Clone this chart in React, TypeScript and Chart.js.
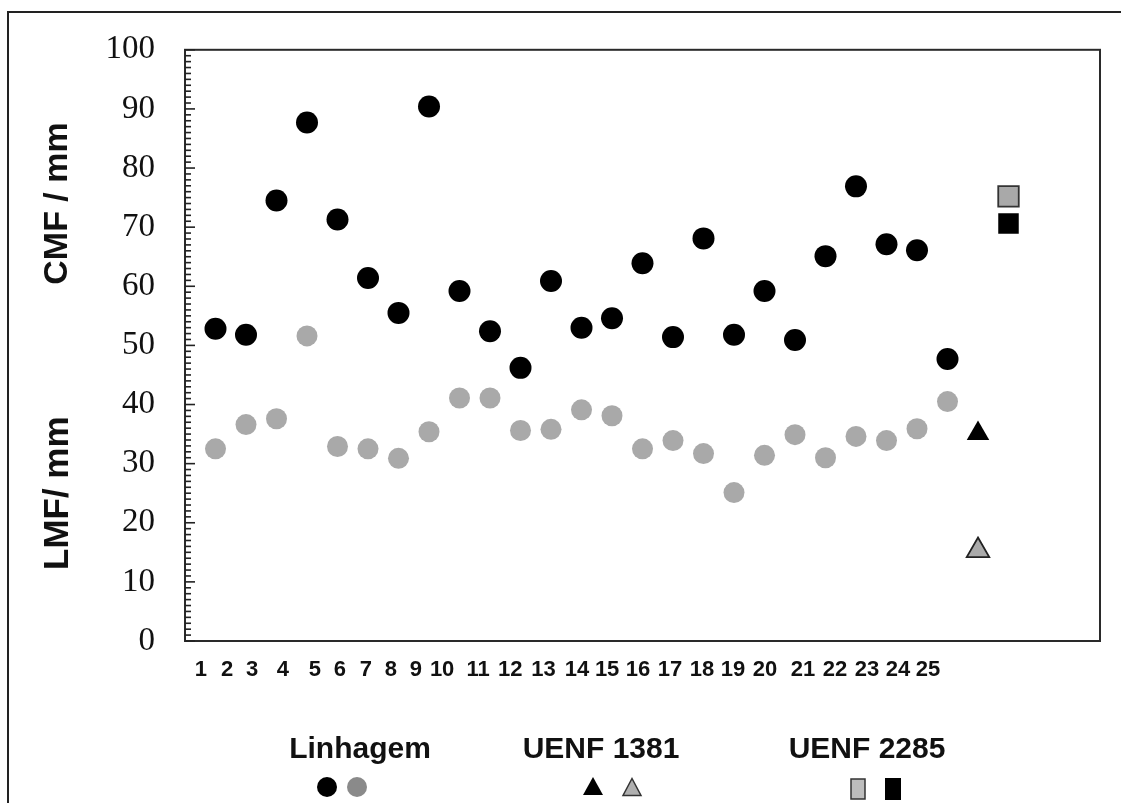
import React, { useEffect, useRef } from "react";
import { Chart, registerables } from "chart.js";

Chart.register(...registerables);

// ---------- data ----------
const linhagemX = [1, 2, 3, 4, 5, 6, 7, 8, 9, 10, 11, 12, 13, 14, 15, 16, 17, 18, 19, 20, 21, 22, 23, 24, 25];
const linhagemCMF = [52.8, 51.8, 74.5, 87.7, 71.3, 61.4, 55.5, 90.4, 59.2, 52.4, 46.2, 60.9, 53.0, 54.6, 63.9, 51.4, 68.1, 51.8, 59.2, 50.9, 65.1, 76.9, 67.1, 66.1, 47.7];
const linhagemLMF = [32.5, 36.6, 37.6, 51.6, 32.9, 32.5, 30.9, 35.4, 41.1, 41.1, 35.6, 35.8, 39.1, 38.1, 32.5, 33.9, 31.7, 25.1, 31.4, 34.9, 31.0, 34.6, 33.9, 35.9, 40.5];

const uenf1381X = [26];
const uenf1381CMF = [35.1];
const uenf1381LMF = [15.3];

const uenf2285X = [27];
const uenf2285LMF = [75.2];
const uenf2285CMF = [70.6];

const xTickPositions = [0.52, 1.38, 2.2, 3.21, 4.26, 5.08, 5.93, 6.75, 7.57, 8.43, 9.61, 10.66, 11.75, 12.85, 13.84, 14.85, 15.9, 16.95, 17.97, 19.02, 20.26, 21.31, 22.36, 23.38, 24.36];
const xTickLabels = ["1", "2", "3", "4", "5", "6", "7", "8", "9", "10", "11", "12", "13", "14", "15", "16", "17", "18", "19", "20", "21", "22", "23", "24", "25"];

const yTitles = ["CMF / mm", "LMF/ mm"];
const legendGroups = ["Linhagem", "UENF 1381", "UENF 2285"];

const SANS = "'Liberation Sans', Arial, Helvetica, sans-serif";
const SERIF = "'Liberation Serif', 'Times New Roman', serif";

const pts = (xs: number[], ys: number[]) => xs.map((x, i) => ({ x, y: ys[i] }));

const decorPlugin = {
  id: "decor",
  beforeDraw(chart: any) {
    const ctx = chart.ctx;
    ctx.save();
    ctx.fillStyle = "#ffffff";
    ctx.fillRect(0, 0, chart.width, chart.height);
    // outer frame (top and left)
    ctx.strokeStyle = "#222";
    ctx.lineWidth = 2;
    ctx.beginPath();
    ctx.moveTo(8, chart.height + 2);
    ctx.lineTo(8, 12);
    ctx.lineTo(chart.width + 2, 12);
    ctx.stroke();
    ctx.restore();
  },
  afterDraw(chart: any) {
    const ctx = chart.ctx;
    const a = chart.chartArea;
    const ys = chart.scales.y;
    ctx.save();
    // plot box
    ctx.strokeStyle = "#2a2a2a";
    ctx.lineWidth = 2;
    ctx.strokeRect(a.left, a.top, a.right - a.left, a.bottom - a.top);
    // y minor/major ticks inside
    ctx.lineWidth = 1.6;
    ctx.strokeStyle = "#222";
    for (let v = 0; v <= 100; v++) {
      const y = ys.getPixelForValue(v);
      const len = v % 10 === 0 ? 10 : 6;
      ctx.beginPath();
      ctx.moveTo(a.left, y);
      ctx.lineTo(a.left + len, y);
      ctx.stroke();
    }
    // y titles
    ctx.fillStyle = "#111";
    ctx.textAlign = "center";
    ctx.textBaseline = "middle";
    const titleCenters = [ys.getPixelForValue(74), ys.getPixelForValue(25)];
    const titleSizes = [34, 35];
    yTitles.forEach((t, i) => {
      ctx.save();
      ctx.font = `bold ${titleSizes[i]}px ${SANS}`;
      ctx.translate(58, titleCenters[i]);
      ctx.rotate(-Math.PI / 2);
      ctx.fillText(t, 0, 0);
      ctx.restore();
    });
    // legend
    ctx.font = `bold 30px ${SANS}`;
    const centers = [360, 601, 867];
    legendGroups.forEach((t, i) => ctx.fillText(t, centers[i], 750));
    // Linhagem markers
    ctx.fillStyle = "#000";
    ctx.beginPath();
    ctx.arc(327, 787, 10, 0, Math.PI * 2);
    ctx.fill();
    ctx.fillStyle = "#8a8a8a";
    ctx.beginPath();
    ctx.arc(357, 787, 10, 0, Math.PI * 2);
    ctx.fill();
    // UENF 1381 markers
    const tri = (cx: number, cy: number, w: number, h: number, fill: string, stroke: boolean) => {
      ctx.beginPath();
      ctx.moveTo(cx, cy - h / 2);
      ctx.lineTo(cx + w / 2, cy + h / 2);
      ctx.lineTo(cx - w / 2, cy + h / 2);
      ctx.closePath();
      ctx.fillStyle = fill;
      ctx.fill();
      if (stroke) {
        ctx.strokeStyle = "#333";
        ctx.lineWidth = 1.5;
        ctx.stroke();
      }
    };
    tri(593, 786, 20, 18, "#000", false);
    tri(632, 787, 18, 17, "#b0b0b0", true);
    // UENF 2285 markers
    ctx.fillStyle = "#bdbdbd";
    ctx.fillRect(851, 779, 14, 20);
    ctx.strokeStyle = "#333";
    ctx.lineWidth = 1.5;
    ctx.strokeRect(851, 779, 14, 20);
    ctx.fillStyle = "#000";
    ctx.fillRect(885, 778, 16, 22);
    ctx.restore();
  },
};

export default function App() {
  const ref = useRef<HTMLCanvasElement | null>(null);

  useEffect(() => {
    if (!ref.current) return;
    const chart = new Chart(ref.current, {
      type: "scatter",
      data: {
        datasets: [
          {
            label: "Linhagem CMF",
            data: pts(linhagemX, linhagemCMF),
            pointStyle: "circle",
            pointRadius: 11,
            backgroundColor: "#000",
            borderWidth: 0,
          },
          {
            label: "Linhagem LMF",
            data: pts(linhagemX, linhagemLMF),
            pointStyle: "circle",
            pointRadius: 10.5,
            backgroundColor: "#a9a9a9",
            borderWidth: 0,
          },
          {
            label: "UENF 1381 CMF",
            data: pts(uenf1381X, uenf1381CMF),
            pointStyle: "triangle",
            pointRadius: 13,
            backgroundColor: "#000",
            borderWidth: 0,
          },
          {
            label: "UENF 1381 LMF",
            data: pts(uenf1381X, uenf1381LMF),
            pointStyle: "triangle",
            pointRadius: 13,
            backgroundColor: "#aaaaaa",
            borderColor: "#222",
            borderWidth: 1.8,
          },
          {
            label: "UENF 2285 LMF",
            data: pts(uenf2285X, uenf2285LMF),
            pointStyle: "rect",
            pointRadius: 14.5,
            backgroundColor: "#a9a9a9",
            borderColor: "#333",
            borderWidth: 1.8,
          },
          {
            label: "UENF 2285 CMF",
            data: pts(uenf2285X, uenf2285CMF),
            pointStyle: "rect",
            pointRadius: 14.5,
            backgroundColor: "#000",
            borderWidth: 0,
          },
        ],
      },
      options: {
        animation: false,
        responsive: false,
        devicePixelRatio: 1,
        layout: { padding: { top: 48, right: 21, bottom: 0, left: 0 } },
        plugins: { legend: { display: false }, tooltip: { enabled: false } },
        scales: {
          x: {
            type: "linear",
            min: 0,
            max: 30,
            grid: { display: false, drawTicks: false },
            border: { display: false },
            afterBuildTicks: (scale: any) => {
              scale.ticks = xTickPositions.map((v) => ({ value: v }));
            },
            afterFit: (scale: any) => {
              scale.height = 162;
            },
            ticks: {
              autoSkip: false,
              maxRotation: 0,
              minRotation: 0,
              padding: 16,
              color: "#111",
              font: { family: SANS, size: 22, weight: "bold" },
              callback: (_v: any, i: number) => xTickLabels[i],
            },
          },
          y: {
            type: "linear",
            min: 0,
            max: 100,
            grid: { display: false, drawTicks: false },
            border: { display: false },
            afterFit: (scale: any) => {
              scale.width = 185;
            },
            ticks: {
              stepSize: 10,
              padding: 30,
              color: "#111",
              font: { family: SERIF, size: 33 },
            },
          },
        },
      },
      plugins: [decorPlugin],
    } as any);
    return () => chart.destroy();
  }, []);

  return (
    <div style={{ position: "fixed", left: 0, top: 0, width: 1121, height: 803, background: "#fff" }}>
      <canvas ref={ref} width={1121} height={803} style={{ display: "block" }} />
    </div>
  );
}
